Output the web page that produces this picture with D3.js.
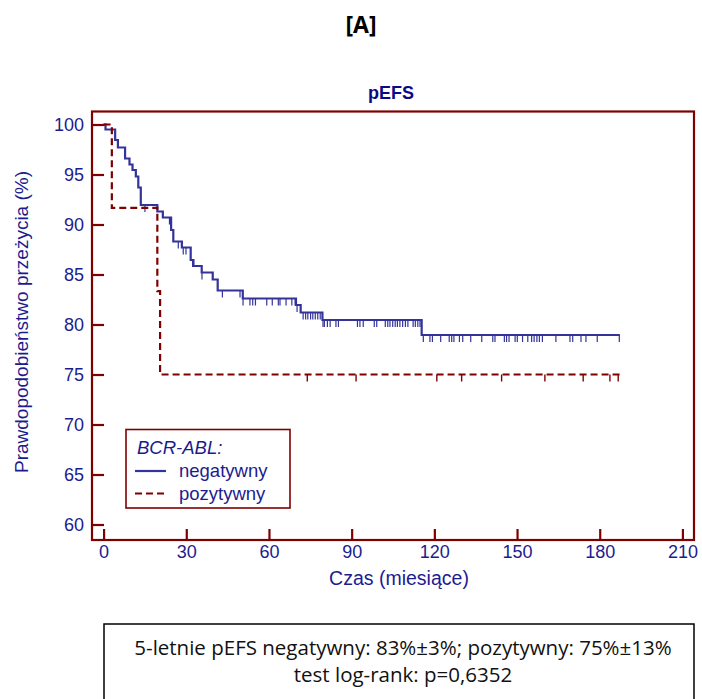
<!DOCTYPE html>
<html>
<head>
<meta charset="utf-8">
<script src="https://cdn.jsdelivr.net/npm/d3@7"></script>
<style>
  html, body { margin: 0; padding: 0; background: #ffffff; }
  svg { display: block; }
</style>
</head>
<body>
<svg id="chart" width="702" height="699"></svg>
<script>
// Kaplan-Meier estimates (months, survival %) for each BCR-ABL group
const negMonths = [0, 0.7, 4.2, 5.2, 7.8, 9.4, 10.5, 11.7, 12.6, 13.5, 19.5, 21.5, 24.5, 25.3, 28.4, 31.6, 32.6, 35.6, 39.6, 41.4, 50.5, 69.8, 71.5, 79.4, 115.4, 187.3];
const negSurv   = [100, 99.5, 98.45, 97.7, 96.6, 96.0, 95.45, 94.8, 93.7, 91.95, 91.3, 90.7, 89.45, 88.3, 87.7, 86.45, 85.85, 85.2, 84.5, 83.4, 82.6, 81.95, 81.2, 80.45, 78.95, 78.95];
const negCensored = [15.0, 23.9, 27.1, 28.9, 29.9, 32.3, 35.7, 43.1, 49.5, 50.6, 53.1, 54.1, 55.1, 59.2, 61.2, 63.4, 64.0, 66.2, 68.3, 69.5, 70.2,
  72.4, 73.3, 74.1, 75.1, 75.9, 76.8, 77.7, 78.6, 79.6, 80.1, 81.2, 82.2, 84.3, 85.2, 92.1, 93.0, 94.2, 98.2, 99.1, 102.2, 103.1, 103.9,
  104.9, 105.8, 106.6, 107.5, 108.5, 109.5, 110.4, 112.3, 113.1, 114.0, 114.8, 116.0, 118.4, 119.3, 122.3, 125.4, 126.3, 127.1, 129.1,
  130.3, 133.2, 137.2, 141.2, 142.0, 145.4, 146.2, 147.1, 149.3, 150.1, 152.0, 153.9, 155.3, 156.2, 157.2, 158.1, 159.2, 164.1, 169.2,
  170.2, 173.2, 175.0, 179.1, 187.1];

const posMonths = [0, 3.0, 19.5, 20.5, 187.3];
const posSurv   = [100, 91.67, 83.33, 75, 75];
const posCensored = [73.9, 91.6, 120.9, 129.9, 144.4, 160.1, 174.0, 183.7, 186.7];

const xTicks = [0, 30, 60, 90, 120, 150, 180, 210];
const yTicks = [60, 65, 70, 75, 80, 85, 90, 95, 100];

const panelLabel = "[A]";
const chartTitle = "pEFS";
const xTitle = "Czas (miesiące)";
const yTitle = "Prawdopodobieństwo przeżycia (%)";
const legendTitle = "BCR-ABL:";
const seriesNames = ["negatywny", "pozytywny"];
const summaryLines = ["5-letnie pEFS negatywny: 83%±3%; pozytywny: 75%±13%", "test log-rank: p=0,6352"];

const maroon = "#800000";
const blue = "#333399";
const textBlue = "#1c1c8f";
const sans = "'Liberation Sans', Arial, sans-serif";

const frame = { left: 92, right: 694, top: 111.5, bottom: 540 };

const x = d3.scaleLinear().domain([-4.2, 214.2]).range([frame.left, frame.right]);
const y = d3.scaleLinear().domain([58.45, 101.3]).range([frame.bottom, frame.top]);

const svg = d3.select("#chart");

// Panel label and title
svg.append("text")
  .attr("x", 361).attr("y", 33)
  .attr("text-anchor", "middle")
  .style("font-family", "'Open Sans', sans-serif")
  .style("font-weight", "bold")
  .style("font-size", "23px")
  .attr("fill", "#000")
  .text(panelLabel);

svg.append("text")
  .attr("x", (frame.left + frame.right) / 2 - 2).attr("y", 99)
  .attr("text-anchor", "middle")
  .style("font-family", sans)
  .style("font-weight", "bold")
  .style("font-size", "18px")
  .attr("fill", "#0a0a85")
  .text(chartTitle);

// Axes with inward ticks
const yAxis = d3.axisLeft(y).tickValues(yTicks).tickSize(-12).tickPadding(8);
const xAxis = d3.axisBottom(x).tickValues(xTicks).tickSize(-11).tickPadding(5);

const gy = svg.append("g").attr("transform", `translate(${frame.left},0)`).call(yAxis);
const gx = svg.append("g").attr("transform", `translate(0,${frame.bottom})`).call(xAxis);

[gx, gy].forEach(g => {
  g.select(".domain").remove();
  g.selectAll(".tick line").attr("stroke", maroon).attr("stroke-width", 2.2);
  g.selectAll(".tick text")
    .style("font-family", sans)
    .style("font-size", "18px")
    .attr("fill", textBlue);
});

// Frame
svg.append("rect")
  .attr("x", frame.left).attr("y", frame.top)
  .attr("width", frame.right - frame.left)
  .attr("height", frame.bottom - frame.top)
  .attr("fill", "none")
  .attr("stroke", maroon)
  .attr("stroke-width", 2.2);

// Axis titles
svg.append("text")
  .attr("x", 399).attr("y", 585)
  .attr("text-anchor", "middle")
  .style("font-family", sans)
  .style("font-size", "19.5px")
  .attr("fill", textBlue)
  .text(xTitle);

svg.append("text")
  .attr("transform", "translate(28,322) rotate(-90)")
  .attr("text-anchor", "middle")
  .style("font-family", sans)
  .style("font-size", "19px")
  .attr("fill", textBlue)
  .text(yTitle);

// Survival curves
const stepLine = d3.line()
  .x(d => x(d[0]))
  .y(d => y(d[1]))
  .curve(d3.curveStepAfter);

function survivalAt(months, surv, t) {
  const i = d3.bisectRight(months, t) - 1;
  return surv[Math.max(0, i)];
}

const plot = svg.append("g");

// negative group (solid)
plot.append("path")
  .datum(d3.zip(negMonths, negSurv))
  .attr("d", stepLine)
  .attr("fill", "none")
  .attr("stroke", blue)
  .attr("stroke-width", 2.2);

plot.selectAll(".cens-neg")
  .data(negCensored)
  .join("line")
  .attr("class", "cens-neg")
  .attr("x1", d => x(d)).attr("x2", d => x(d))
  .attr("y1", d => y(survivalAt(negMonths, negSurv, d)))
  .attr("y2", d => y(survivalAt(negMonths, negSurv, d)) + 7)
  .attr("stroke", blue)
  .attr("stroke-width", 1.2);

// positive group (dashed)
plot.append("path")
  .datum(d3.zip(posMonths, posSurv))
  .attr("d", stepLine)
  .attr("fill", "none")
  .attr("stroke", maroon)
  .attr("stroke-width", 2.2)
  .attr("stroke-dasharray", "7,4");

plot.selectAll(".cens-pos")
  .data(posCensored)
  .join("line")
  .attr("class", "cens-pos")
  .attr("x1", d => x(d)).attr("x2", d => x(d))
  .attr("y1", d => y(survivalAt(posMonths, posSurv, d)))
  .attr("y2", d => y(survivalAt(posMonths, posSurv, d)) + 7)
  .attr("stroke", maroon)
  .attr("stroke-width", 1.4);

// Legend
const legend = svg.append("g").attr("transform", "translate(126,429.5)");
legend.append("rect")
  .attr("width", 164).attr("height", 78.5)
  .attr("fill", "#fff")
  .attr("stroke", maroon)
  .attr("stroke-width", 1.6);
legend.append("text")
  .attr("x", 11).attr("y", 24)
  .style("font-family", sans)
  .style("font-style", "italic")
  .style("font-size", "18.5px")
  .attr("fill", textBlue)
  .text(legendTitle);

const legendStyles = [
  { stroke: blue, dash: null },
  { stroke: maroon, dash: "7,4" }
];
seriesNames.forEach((name, i) => {
  const yy = 41.5 + i * 22.5;
  legend.append("line")
    .attr("x1", 9).attr("x2", 40)
    .attr("y1", yy).attr("y2", yy)
    .attr("stroke", legendStyles[i].stroke)
    .attr("stroke-width", 2.2)
    .attr("stroke-dasharray", legendStyles[i].dash);
  legend.append("text")
    .attr("x", 53).attr("y", yy + 6)
    .style("font-family", sans)
    .style("font-size", "18.5px")
    .attr("fill", textBlue)
    .text(name);
});

// Summary box below the chart
svg.append("rect")
  .attr("x", 104).attr("y", 624)
  .attr("width", 590).attr("height", 90)
  .attr("fill", "none")
  .attr("stroke", "#000")
  .attr("stroke-width", 1.5);

summaryLines.forEach((line, i) => {
  svg.append("text")
    .attr("x", 403).attr("y", 655 + i * 27)
    .attr("text-anchor", "middle")
    .style("font-family", "'Open Sans', sans-serif")
    .style("font-size", "20.5px")
    .attr("fill", "#111")
    .text(line);
});
</script>
</body>
</html>
